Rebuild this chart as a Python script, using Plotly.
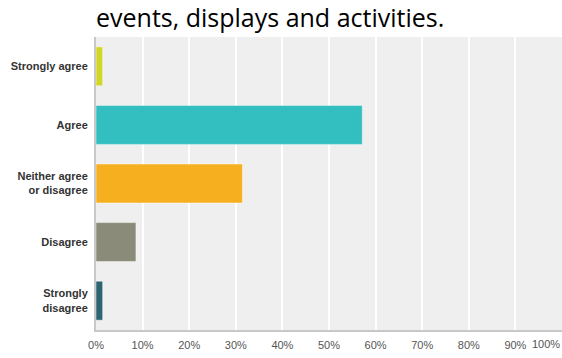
import plotly.graph_objects as go

title_text = "events, displays and activities."
categories = ["Strongly agree", "Agree", "Neither agree<br>or disagree", "Disagree", "Strongly<br>disagree"]
values = [1.43, 57.14, 31.43, 8.57, 1.43]
bar_colors = ["#d1d62b", "#33bebf", "#f6af1f", "#8a8b78", "#2e6370"]
tick_vals = [0, 10, 20, 30, 40, 50, 60, 70, 80, 90, 100]
tick_text = ["0%", "10%", "20%", "30%", "40%", "50%", "60%", "70%", "80%", "90%", ""]
last_tick_label = "100%"

fig = go.Figure()
fig.add_trace(go.Bar(
    y=categories, x=values, orientation="h",
    marker=dict(color=bar_colors, line=dict(color="rgba(255,255,255,0.45)", width=1)),
    width=0.665,
))

fig.update_layout(
    width=562, height=358,
    margin=dict(l=96, r=0, t=37, b=28, autoexpand=False),
    paper_bgcolor="white", plot_bgcolor="#efefef",
    showlegend=False,
    annotations=[
        dict(text=title_text, xref="paper", yref="paper", x=-0.004, y=1.0, yshift=1,
             xanchor="left", yanchor="bottom", showarrow=False,
             font=dict(family="Open Sans", size=25, color="#000000")),
        dict(text=last_tick_label, xref="x", yref="paper", x=100, y=0, yshift=-6,
             xanchor="right", yanchor="top", showarrow=False,
             font=dict(family="Arial, Liberation Sans", size=11, color="#555555")),
    ],
)
fig.update_xaxes(
    range=[0, 100], tickvals=tick_vals, ticktext=tick_text,
    showgrid=True, gridcolor="white", gridwidth=1.5,
    zeroline=False, showline=True, linecolor="#c8c8c8", linewidth=2,
    ticks="", ticklabelstandoff=4, automargin=False,
    tickfont=dict(family="Arial, Liberation Sans", size=11, color="#555555"),
    fixedrange=True,
)
fig.update_yaxes(
    autorange="reversed", showgrid=False, zeroline=False,
    showline=True, linecolor="#c8c8c8", linewidth=2,
    ticks="", ticklabelstandoff=4, automargin=False,
    tickfont=dict(family="Arial, Liberation Sans", size=11, color="#333333", weight="bold"),
)

fig.write_html("out.html", config={"displayModeBar": False},
               post_script="document.body.style.margin='0';document.body.style.overflow='hidden';")
